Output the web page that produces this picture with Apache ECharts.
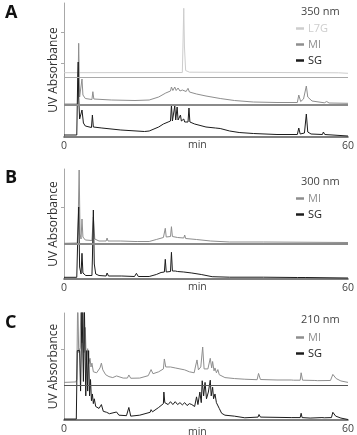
<!DOCTYPE html>
<html>
<head>
<meta charset="utf-8">
<script src="https://cdn.jsdelivr.net/npm/echarts@6/dist/echarts.min.js"></script>
<style>
  html, body { margin: 0; padding: 0; background: #fff; }
</style>
</head>
<body>
<div id="myChart" style="width: 357px; height: 435px;"></div>
<script>
// retention time (min), absorbance (arbitrary units)
var a_L7G = [[0,64.3],[25.0,64.5],[25.15,95],[25.3,128.7],[25.45,90],[25.7,66.5],[26.5,64.8],[45,64.5],[58,64.2],[60,63.7]];
var a_MI = [[0,33],[2.9,33],[3.1,93.7],[3.3,40],[3.6,38],[3.8,58],[4.0,42],[4.5,38.5],[5.9,37.5],[6.1,45.3],[6.3,38],[10,37],[15,36.5],[18,37],[20,40],
  [21.5,44],[22.5,46],[22.7,50],[23.0,46.5],[23.4,50],[23.7,46.5],[24.1,49],[24.5,46],[25.0,47],[25.8,45.5],[26.2,48.7],[26.5,45],
  [28,43],[30,41],[33,38.5],[36,36.5],[40,35],[45,34.5],[49.3,34.5],[49.6,42],[50.0,35.5],[50.6,38],[50.9,40],[51.2,51],[51.5,40],
  [51.9,41],[52.4,36],[55,34.2],[55.5,35.5],[56,34],[60,33.7]];
var a_SG = [[0,2],[2.7,2],[2.9,60],[3.0,75],[3.1,40],[3.3,18],[3.6,16],[3.8,27],[4.1,14],[4.5,11],[5.8,9.5],[6.0,22],[6.2,10],[8,9],[12,7],
  [17,5.5],[18,6],[20,10],[21,13],[22,15],[22.5,16],[22.7,32],[22.9,16],[23.3,17],[23.4,31],[23.6,17],[23.8,17],[23.9,30],[24.1,17],
  [24.4,17],[24.6,22],[24.8,16],[25.3,18],[25.5,15],[26.2,15],[26.4,29],[26.6,15],[27.6,13],[27.8,15],[28.0,11],[30,10],[32,9],[33,8.5],
  [35,6],[37,4.5],[40,3.5],[45,2.5],[49.3,2.5],[49.6,9],[49.9,3],[50.8,4],[51.2,23],[51.5,5],[51.8,7],[52.2,3],[54.6,2.5],[54.8,5],
  [55.1,2.5],[60,1]];
var b_MI = [[0,35.7],[2.8,36],[3.0,60],[3.2,109],[3.4,45],[3.6,40],[3.8,60],[4.0,42],[4.2,40],[4.5,39],[5.9,38.5],[6.2,62],[6.5,40],
  [7.4,38],[7.6,39.5],[7.8,38],[8.9,38],[9.1,41],[9.3,38],[11.2,38],[11.6,39.7],[12,38],[15,37.5],[15.3,38.5],[15.6,37.5],[18,37.5],
  [19.5,39.5],[21,41.5],[21.2,41.5],[21.4,50.7],[21.6,42],[22.5,42.5],[22.7,52.3],[22.9,42.5],[24,41.5],[25.3,41],[25.5,44],[25.7,40.5],
  [28,39.5],[31,38],[35,37],[42.1,37],[42.3,39],[42.5,37],[60,36.5]];
var b_SG = [[0,1.7],[2.7,1.7],[2.9,40],[3.1,72],[3.3,12],[3.6,5],[3.8,25.7],[4.0,6],[4.3,5.7],[4.6,3.5],[5.9,3.5],[6.0,20],[6.2,69],
  [6.4,15],[6.7,5],[7.4,3.5],[7.6,5],[7.8,3],[8.9,3],[9.1,6],[9.4,3],[11.2,3],[11.6,4.7],[12.2,3],[14.9,2.5],[15.3,5.7],[15.7,2.5],
  [18,2.5],[19.5,4.5],[20.5,6.5],[21.2,7],[21.4,19.7],[21.6,7],[22.5,7.5],[22.7,26.7],[22.9,8],[23.5,8],[24,7.5],[25.3,7],[25.5,8],
  [25.7,6.5],[27,6],[29,4.5],[31.3,2.3],[35,1.8],[42.1,1.8],[42.3,3],[42.5,1.8],[49.3,1.5],[49.5,2.5],[49.7,1.5],[51.1,1.5],[51.3,2.5],
  [51.5,1.5],[60,1]];
var c_MI = [[0,39],[2.5,39.5],[2.7,42],[2.9,130],[3.1,70],[3.4,75],[3.6,130],[3.8,80],[4.0,130],[4.2,70],[4.5,96],[4.7,62],[5.0,74],
  [5.2,58],[5.5,64],[5.7,55],[5.9,59],[6.2,50],[6.6,52],[6.9,49],[7.3,50],[7.6,54],[7.9,59],[8.2,52],[8.8,47],[9.5,45],[10.3,44],
  [11.1,45.7],[11.5,44],[12.5,43.5],[13.4,43.5],[13.7,46.7],[14.1,43.3],[16,43.5],[17.8,46],[18.4,52.3],[18.8,48],[20,50],[21.0,53],
  [21.2,63.3],[21.5,55],[22.5,55],[23.5,54],[24.5,53],[25.5,52],[26.5,50],[27.5,49],[27.8,56],[28.1,62.3],[28.4,52],[28.9,55],
  [29.3,75.7],[29.6,53],[30.0,52],[30.4,53],[30.9,64],[31.2,54],[31.4,60.7],[31.7,51],[31.9,54],[32.2,49],[32.5,52.3],[32.8,47],
  [34,44],[36,43],[38.2,42.3],[40.8,41.8],[41.1,48.3],[41.5,42],[45,41.5],[48,41.5],[48.2,43.5],[48.5,41.3],[49.9,41.3],[50.1,49],
  [50.4,41.3],[53,41],[53.3,42],[53.6,40.8],[56.3,41],[56.8,47.3],[57.5,43],[58.5,40.5],[60,39]];
var c_SG = [[0,1],[2.6,1],[2.8,72],[3.3,72],[3.5,30],[3.8,120],[4.1,40],[4.3,120],[4.6,25],[4.8,72],[5.0,30],[5.2,72],[5.4,25],
  [5.6,42],[5.8,20],[6.0,27],[6.2,17],[6.4,22],[6.7,14],[7.0,16],[7.4,12],[7.9,16],[8.3,9],[9.0,8],[9.6,6.5],[11.1,8.3],[11.6,5],
  [13.2,4.5],[13.7,13],[14.1,4],[16,5],[18.2,8],[18.4,10.7],[18.7,8.5],[20,13],[21.0,17],[21.1,29],[21.3,18],[22,16],[22.5,19],
  [23,16],[23.5,19],[24,16],[24.5,18],[25,15.7],[25.5,18],[26,15],[26.5,17],[27,16],[27.6,14],[28.0,24],[28.3,16],[28.7,29],
  [29.0,18],[29.2,40.7],[29.5,25],[29.8,39],[30.1,22],[30.5,29],[30.9,41.3],[31.1,25],[31.4,34],[31.6,22],[31.9,27],[32.2,18],
  [32.5,17.3],[32.8,12],[33.3,7],[34,5],[36,4],[38.2,2.3],[41.0,3],[41.2,5.7],[41.5,3],[48,2.5],[49.9,2.5],[50.1,7],[50.3,2.5],
  [52,2],[54.5,2.5],[54.8,4],[55.0,2.3],[56.5,2.5],[56.8,8],[57.4,4],[58.5,2],[60,0.5]];
// baselines drawn across each panel
var a_lines = [59.7, 32];
var b_lines = [35.7];
var c_lines = [36.3];
var wavelengths = ['350 nm', '300 nm', '210 nm'];
var xTicks = [0, 60];
var yTicks = [[74, 105], [72], [73]];

var COL = { L7G: '#cdcdcd', MI: '#8e8e8e', SG: '#1c1c1c' };
var FONT = 'Open Sans';

var panels = [
  { top: 3, height: 134, max: 134 },
  { top: 169, height: 110, max: 110 },
  { top: 313, height: 111, max: 111 }
];

var grid = [], xAxis = [], yAxis = [];
panels.forEach(function (p, i) {
  grid.push({ left: 64, right: 5.5, top: p.top, height: p.height });
  xAxis.push({
    type: 'value', gridIndex: i, min: 0, max: 60,
    axisLine: { lineStyle: { color: '#555', width: 1.6 } },
    axisTick: { show: false },
    splitLine: { show: false },
    axisLabel: { customValues: xTicks, margin: 4, fontSize: 10.5, color: '#444', fontFamily: FONT }
  });
  yAxis.push({
    type: 'value', gridIndex: i, min: 0, max: p.max,
    name: 'UV Absorbance', nameLocation: 'middle', nameGap: 4,
    nameTextStyle: { fontSize: 12, color: '#333', fontFamily: FONT },
    axisLine: { show: true, lineStyle: { color: '#a8a8a8', width: 1 } },
    axisTick: { show: true, customValues: yTicks[i], length: 3, lineStyle: { color: '#a8a8a8' } },
    axisLabel: { show: false },
    splitLine: { show: false }
  });
});

function trace(name, data, i, lines, lineCol, lineW) {
  var s = {
    name: name, type: 'line', xAxisIndex: i, yAxisIndex: i, data: data,
    symbol: 'none', color: COL[name], lineStyle: { color: COL[name], width: 1 },
    clip: true, silent: true, z: name === 'SG' ? 4 : 3
  };
  if (lines) {
    s.markLine = {
      symbol: 'none', silent: true, label: { show: false },
      lineStyle: { color: lineCol, width: lineW, type: 'solid' },
      data: lines.map(function (v) { return { yAxis: v }; })
    };
  }
  return s;
}

var series = [
  trace('L7G', a_L7G, 0, [a_lines[0]], '#a9a9a9', 1),
  trace('MI', a_MI, 0, [a_lines[1]], '#8a8a8a', 2),
  trace('SG', a_SG, 0),
  trace('MI', b_MI, 1, b_lines, '#8a8a8a', 2),
  trace('SG', b_SG, 1),
  trace('MI', c_MI, 2, c_lines, '#555', 1),
  trace('SG', c_SG, 2)
];

function legendItems(names) {
  return names.map(function (n) { return { name: n, textStyle: { color: COL[n] } }; });
}
var legTops = [23, 193, 332];
var legNames = [['L7G', 'MI', 'SG'], ['MI', 'SG'], ['MI', 'SG']];
var legend = legTops.map(function (t, i) {
  return {
    orient: 'vertical', left: 296, top: t, padding: 0, itemGap: 5,
    itemWidth: 8, itemHeight: 2.5, icon: 'rect', selectedMode: false,
    textStyle: { fontSize: 11, fontFamily: FONT, padding: [0, 0, 0, -1] },
    data: legendItems(legNames[i])
  };
});
var titleTops = [6, 176, 314];
var title = titleTops.map(function (t, i) {
  return { text: wavelengths[i], left: 301, top: t, padding: 0,
    textStyle: { fontSize: 11, fontWeight: 'normal', color: '#444', fontFamily: FONT } };
});

var letters = ['A', 'B', 'C'];
var letterTops = [4, 169, 314];
var minTops = [140, 282, 427];
var graphic = [];
letters.forEach(function (L, i) {
  graphic.push({ type: 'text', left: 5, top: letterTops[i],
    style: { text: L, font: 'bold 18px "' + FONT + '"', fill: '#111' } });
  graphic.push({ type: 'text', left: 188, top: minTops[i],
    style: { text: 'min', font: '10.5px "' + FONT + '"', fill: '#444' } });
});

var myChart = echarts.init(document.getElementById('myChart'));
myChart.setOption({
  animation: false,
  backgroundColor: '#fff',
  title: title,
  legend: legend,
  grid: grid,
  xAxis: xAxis,
  yAxis: yAxis,
  graphic: graphic,
  series: series
});
</script>
</body>
</html>
